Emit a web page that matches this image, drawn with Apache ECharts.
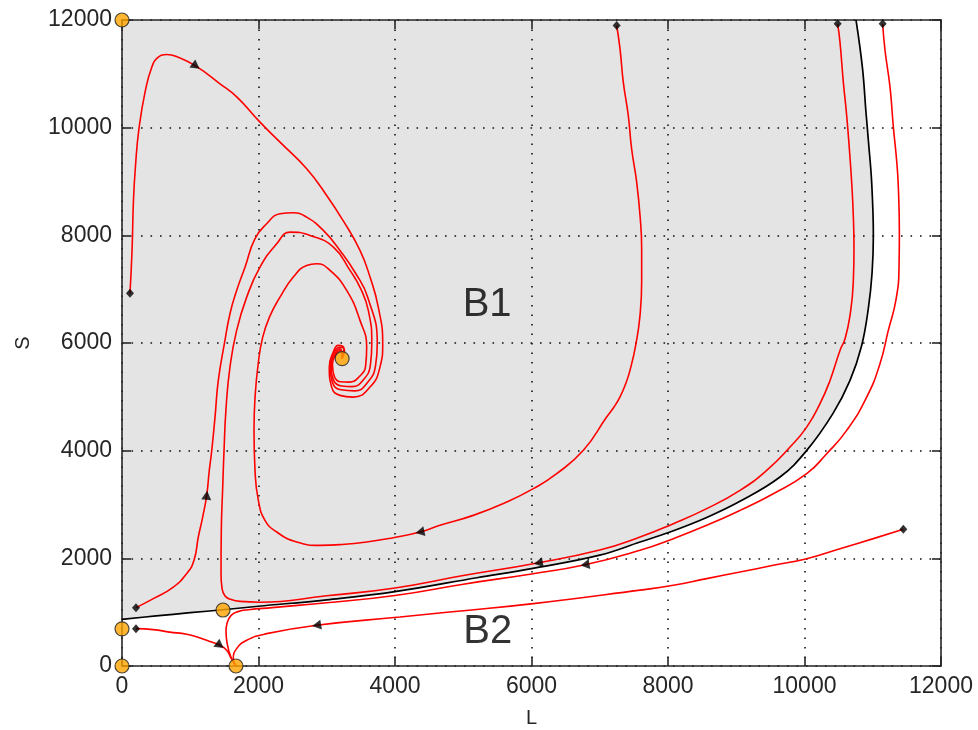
<!DOCTYPE html>
<html><head><meta charset="utf-8">
<script src="https://cdn.jsdelivr.net/npm/echarts/dist/echarts.min.js"></script>
<style>html,body{margin:0;padding:0;background:#fff}#c{width:978px;height:730px}</style>
</head><body><div id="c"></div>
<script>
// ---- data ----
const xTicks = [0, 2000, 4000, 6000, 8000, 10000, 12000];
const yTicks = [0, 2000, 4000, 6000, 8000, 10000, 12000];

// separatrix (black) – boundary of B1
const separatrix = [[0,867],[500,930],[1000,990],[1480,1045],[2000,1110],[3000,1230],[4000,1380],[5200,1640],[6022,1815],[7000,2060],[7590,2303],[8030,2490],[8567,2760],[9055,3060],[9641,3510],[10030,4000],[10418,4693],[10667,5305],[10838,5955],[10935,6637],[10990,7300],[11009,8000],[10984,8988],[10940,9700],[10900,10300],[10850,11100],[10755,12000]];
const b1Corner = [[0,12000]];

// trajectories (red)
const trajA = [[117,6922],[147,7720],[168,8648],[198,9298],[249,9985],[337,10654],[435,11118],[527,11304],[655,11360],[821,11309],[1084,11142],[1436,10815],[1685,10566],[2022,10102],[2315,9731],[2706,9237],[2999,8741],[3238,8277],[3487,7720],[3634,7224],[3755,6667],[3820,5987],[3780,5552],[3634,5181],[3385,4995],[3194,5027],[3072,5181],[3037,5552],[3096,5831],[3169,5955],[3250,5900],[3225,5710]];
const trajB = [[205,1084],[459,1251],[752,1467],[948,1716],[1055,1963],[1118,2396],[1182,2767],[1241,3170],[1279,3634],[1314,3993],[1363,4624],[1411,5305],[1500,5987],[1582,6544],[1680,6977],[1802,7409],[1949,7937],[2120,8215],[2315,8401],[2510,8420],[2706,8338],[2950,8091],[3194,7720],[3420,7300],[3600,6850],[3740,5990],[3715,5580],[3600,5270],[3410,5110],[3210,5130],[3080,5280],[3050,5560],[3110,5830],[3190,5920],[3260,5860],[3225,5710]];
const trajC = [[10486,11929],[10520,11588],[10569,10845],[10618,10226],[10657,9608],[10691,8988],[10715,8369],[10725,7751],[10715,7131],[10667,6513],[10594,6080],[10520,5862],[10374,5305],[10227,4872],[10032,4438],[9788,4067],[9446,3634],[9055,3263],[8567,2923],[8078,2644],[7590,2396],[7000,2155],[6027,1901],[5000,1680],[4000,1450],[3000,1305],[2020,1185],[1729,1200],[1600,1235],[1510,1300],[1465,1450],[1451,1700],[1455,2520],[1475,3300],[1495,4006],[1525,4800],[1582,5553],[1680,6234],[1827,6852],[2022,7409],[2267,7844],[2462,8060],[2755,7998],[3097,7781],[3341,7348],[3500,7000],[3610,6600],[3660,6000],[3640,5600],[3540,5320],[3370,5190],[3220,5200],[3095,5320],[3065,5560],[3120,5800],[3200,5890],[3225,5710]];
const trajD = [[7248,11898],[7297,11465],[7345,10845],[7418,10226],[7467,9608],[7541,8988],[7590,8369],[7614,7751],[7614,7131],[7590,6513],[7530,5980],[7443,5491],[7380,5244],[7297,5000],[7209,4810],[7101,4624],[6760,4006],[6369,3573],[6027,3294],[5637,3046],[5147,2798],[4659,2613],[4366,2489],[3975,2384],[3585,2303],[3194,2254],[2901,2241],[2560,2303],[2267,2489],[2095,2706],[1998,3077],[1949,3634],[1934,4377],[1950,5000],[1995,5610],[2060,6100],[2160,6480],[2315,6852],[2510,7224],[2706,7441],[2852,7472],[3048,7348],[3292,6977],[3487,6420],[3585,5924],[3570,5580],[3480,5380],[3330,5274],[3200,5280],[3110,5380],[3085,5580],[3140,5800],[3210,5860],[3225,5710]];
const trajE = [[11145,11929],[11180,11433],[11253,10752],[11302,10009],[11350,9391],[11375,8895],[11390,8030],[11385,7400],[11340,6800],[11228,6234],[11106,5616],[10911,4995],[10618,4377],[10325,3944],[10032,3573],[9543,3201],[9055,2891],[8567,2613],[8078,2366],[7590,2149],[6784,1880],[6000,1710],[5000,1520],[4000,1310],[3000,1175],[2200,1085],[1850,1045],[1700,1010],[1600,940],[1540,800],[1524,650],[1540,420],[1600,150],[1670,0]];
const trajF = [[11448,2539],[11009,2366],[10520,2180],[10032,1994],[9543,1870],[9055,1746],[8567,1623],[8078,1499],[7590,1410],[6027,1159],[4800,1003],[4073,910],[2852,756],[2120,601],[1827,477],[1680,323],[1631,137],[1670,0]];
const trajG = [[205,694],[459,676],[700,630],[948,590],[1143,520],[1300,450],[1436,384],[1534,291],[1600,140],[1670,0]];

const startPoints = [[117,6922],[205,1084],[205,694],[7248,11898],[10486,11929],[11145,11929],[11448,2539]];
const equilibria = [[0,12000],[0,690],[0,0],[1670,0],[1480,1040],[3225,5710]];
// arrow position + a following point on the same trajectory (direction of flow)
const arrows = [[1084,11142,1436,10815],[1241,3170,1279,3634],[4366,2489,3975,2384],[6100,1915,5000,1680],[6784,1880,6000,1710],[2852,756,2120,601],[1436,384,1534,291]];
const regionLabels = [['B1',5350,6700],['B2',5360,631]];

// ---- chart ----
const chart = echarts.init(document.getElementById('c'));
const font = 'Liberation Sans, Arial, sans-serif';
const axisCommon = {
  type:'value', min:0, max:12000, interval:2000,
  axisLine:{show:true, onZero:false, lineStyle:{color:'#262626', width:1.6}},
  axisTick:{show:true, inside:true, length:9, lineStyle:{color:'#262626', width:1.6}},
  z:2
};
const tickLabel = {fontSize:23, color:'#262626', fontFamily:font, margin:9, showMinLabel:true, showMaxLabel:true,
  formatter:function(v){ const i = xTicks.indexOf(v); return i >= 0 ? String(xTicks[i]) : ''; }};
const trajs = [trajA, trajB, trajC, trajD, trajE, trajF, trajG];
const option = {
  animation:false,
  backgroundColor:'#fff',
  grid:{left:122, right:37, top:20, bottom:64, containLabel:false, outerBoundsMode:'none'},
  xAxis:[
    Object.assign({}, axisCommon, {position:'bottom', name:'L', nameLocation:'middle', nameGap:42,
      nameTextStyle:{fontSize:20, color:'#262626', fontFamily:font},
      axisLabel:tickLabel,
      splitLine:{show:true, lineStyle:{color:'#111', width:1.6, type:[1.6,7.9]}}}),
    Object.assign({}, axisCommon, {position:'top', axisLabel:{show:false}, splitLine:{show:false}})
  ],
  yAxis:[
    Object.assign({}, axisCommon, {position:'left', name:'S', nameLocation:'middle', nameGap:89,
      nameTextStyle:{fontSize:20, color:'#262626', fontFamily:font},
      axisLabel:Object.assign({}, tickLabel, {margin:10, formatter:function(v){ const i = yTicks.indexOf(v); return i >= 0 ? String(yTicks[i]) : ''; }}),
      splitLine:{show:true, lineStyle:{color:'#111', width:1.6, type:[1.6,7.9]}}}),
    Object.assign({}, axisCommon, {position:'right', axisLabel:{show:false}, splitLine:{show:false}})
  ],
  series:[
    {type:'custom', id:'b1fill', z:1, silent:true, data:[[0,0]],
      renderItem:function(params, api){
        const pts = separatrix.concat(b1Corner).map(p => api.coord(p));
        return {type:'polygon', shape:{points:pts}, style:{fill:'#e4e4e4'}};
      }},
    {type:'line', data:separatrix, symbol:'none', silent:true, z:3, smooth:0.4,
      lineStyle:{color:'#000', width:1.7}},
  ].concat(trajs.map(t => ({type:'line', data:t, symbol:'none', smooth:0.5, silent:true, z:3,
      lineStyle:{color:'#ff0000', width:1.6}})))
  .concat([
    {type:'scatter', id:'arrows', data:arrows.map(a=>[a[0],a[1]]), symbol:'triangle', symbolSize:[10,9], z:5, silent:true,
      itemStyle:{color:'#000'}},
    {type:'scatter', data:startPoints, symbol:'diamond', symbolSize:[8,9], z:5, silent:true,
      itemStyle:{color:'#000'}},
    {type:'scatter', data:equilibria, symbol:'circle', symbolSize:14, z:6, silent:true,
      itemStyle:{color:'#FFA500', borderColor:'#222', borderWidth:1.2}},
    {type:'scatter', data:regionLabels.map(r=>({name:r[0], value:[r[1],r[2]]})), symbolSize:1, z:6, silent:true,
      itemStyle:{color:'rgba(0,0,0,0)'},
      label:{show:true, position:'inside', formatter:p=>p.name, fontSize:40, color:'#000', fontFamily:font}}
  ])
};
chart.setOption(option);
const rot = arrows.map(a => {
  const p0 = chart.convertToPixel({xAxisIndex:0, yAxisIndex:0}, [a[0],a[1]]);
  const p1 = chart.convertToPixel({xAxisIndex:0, yAxisIndex:0}, [a[2],a[3]]);
  const ang = Math.atan2(-(p1[1]-p0[1]), p1[0]-p0[0]) * 180 / Math.PI;
  return ang - 90;
});
chart.setOption({series:[{id:'arrows', data:arrows.map((a,i)=>({value:[a[0],a[1]], symbolRotate:rot[i]}))}]});
</script>
</body></html>
